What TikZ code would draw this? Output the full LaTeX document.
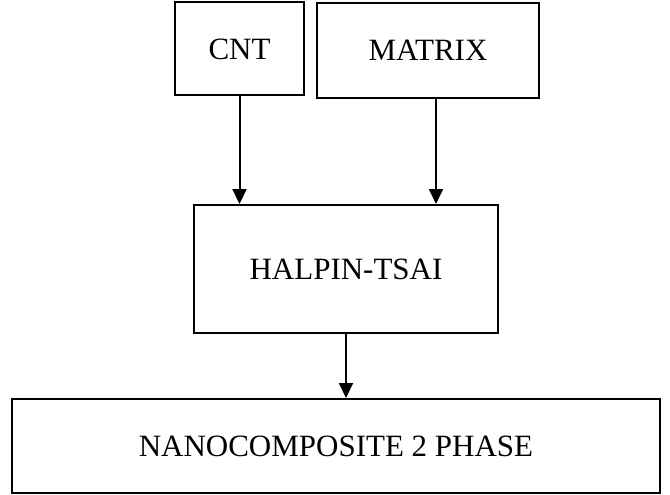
\documentclass[tikz,border=0pt]{standalone}
\usepackage{fontspec}
\setmainfont{Liberation Serif}
\usetikzlibrary{arrows.meta}
\begin{document}
\begin{tikzpicture}[x=1pt,y=-1pt,
  box/.style={draw, line width=2pt, rectangle, inner sep=0pt,
    font=\fontsize{31}{36}\selectfont, text height=20.5pt, text depth=0pt},
  flow/.style={line width=2pt, -{Triangle[length=15pt,width=14pt]}}]
\useasboundingbox (0,0) rectangle (670,495);
% input boxes
\node[box, minimum width=129pt, minimum height=93pt] (cnt) at (239.5,49) {CNT};
\node[box, minimum width=222pt, minimum height=95pt] (matrix) at (428,50.5) {MATRIX};
% model box
\node[box, minimum width=304pt, minimum height=128pt] (halpin) at (346,269) {HALPIN-TSAI};
% result box
\node[box, minimum width=648pt, minimum height=94pt] (nano) at (336,446) {NANOCOMPOSITE 2 PHASE};
% connectors
\coordinate (mx) at (436,0);
\draw[flow] (cnt.south) -- (halpin.north -| cnt.south);
\draw[flow] (matrix.south -| mx) -- (halpin.north -| mx);
\draw[flow] (halpin.south) -- (nano.north -| halpin.south);
\end{tikzpicture}
\end{document}
